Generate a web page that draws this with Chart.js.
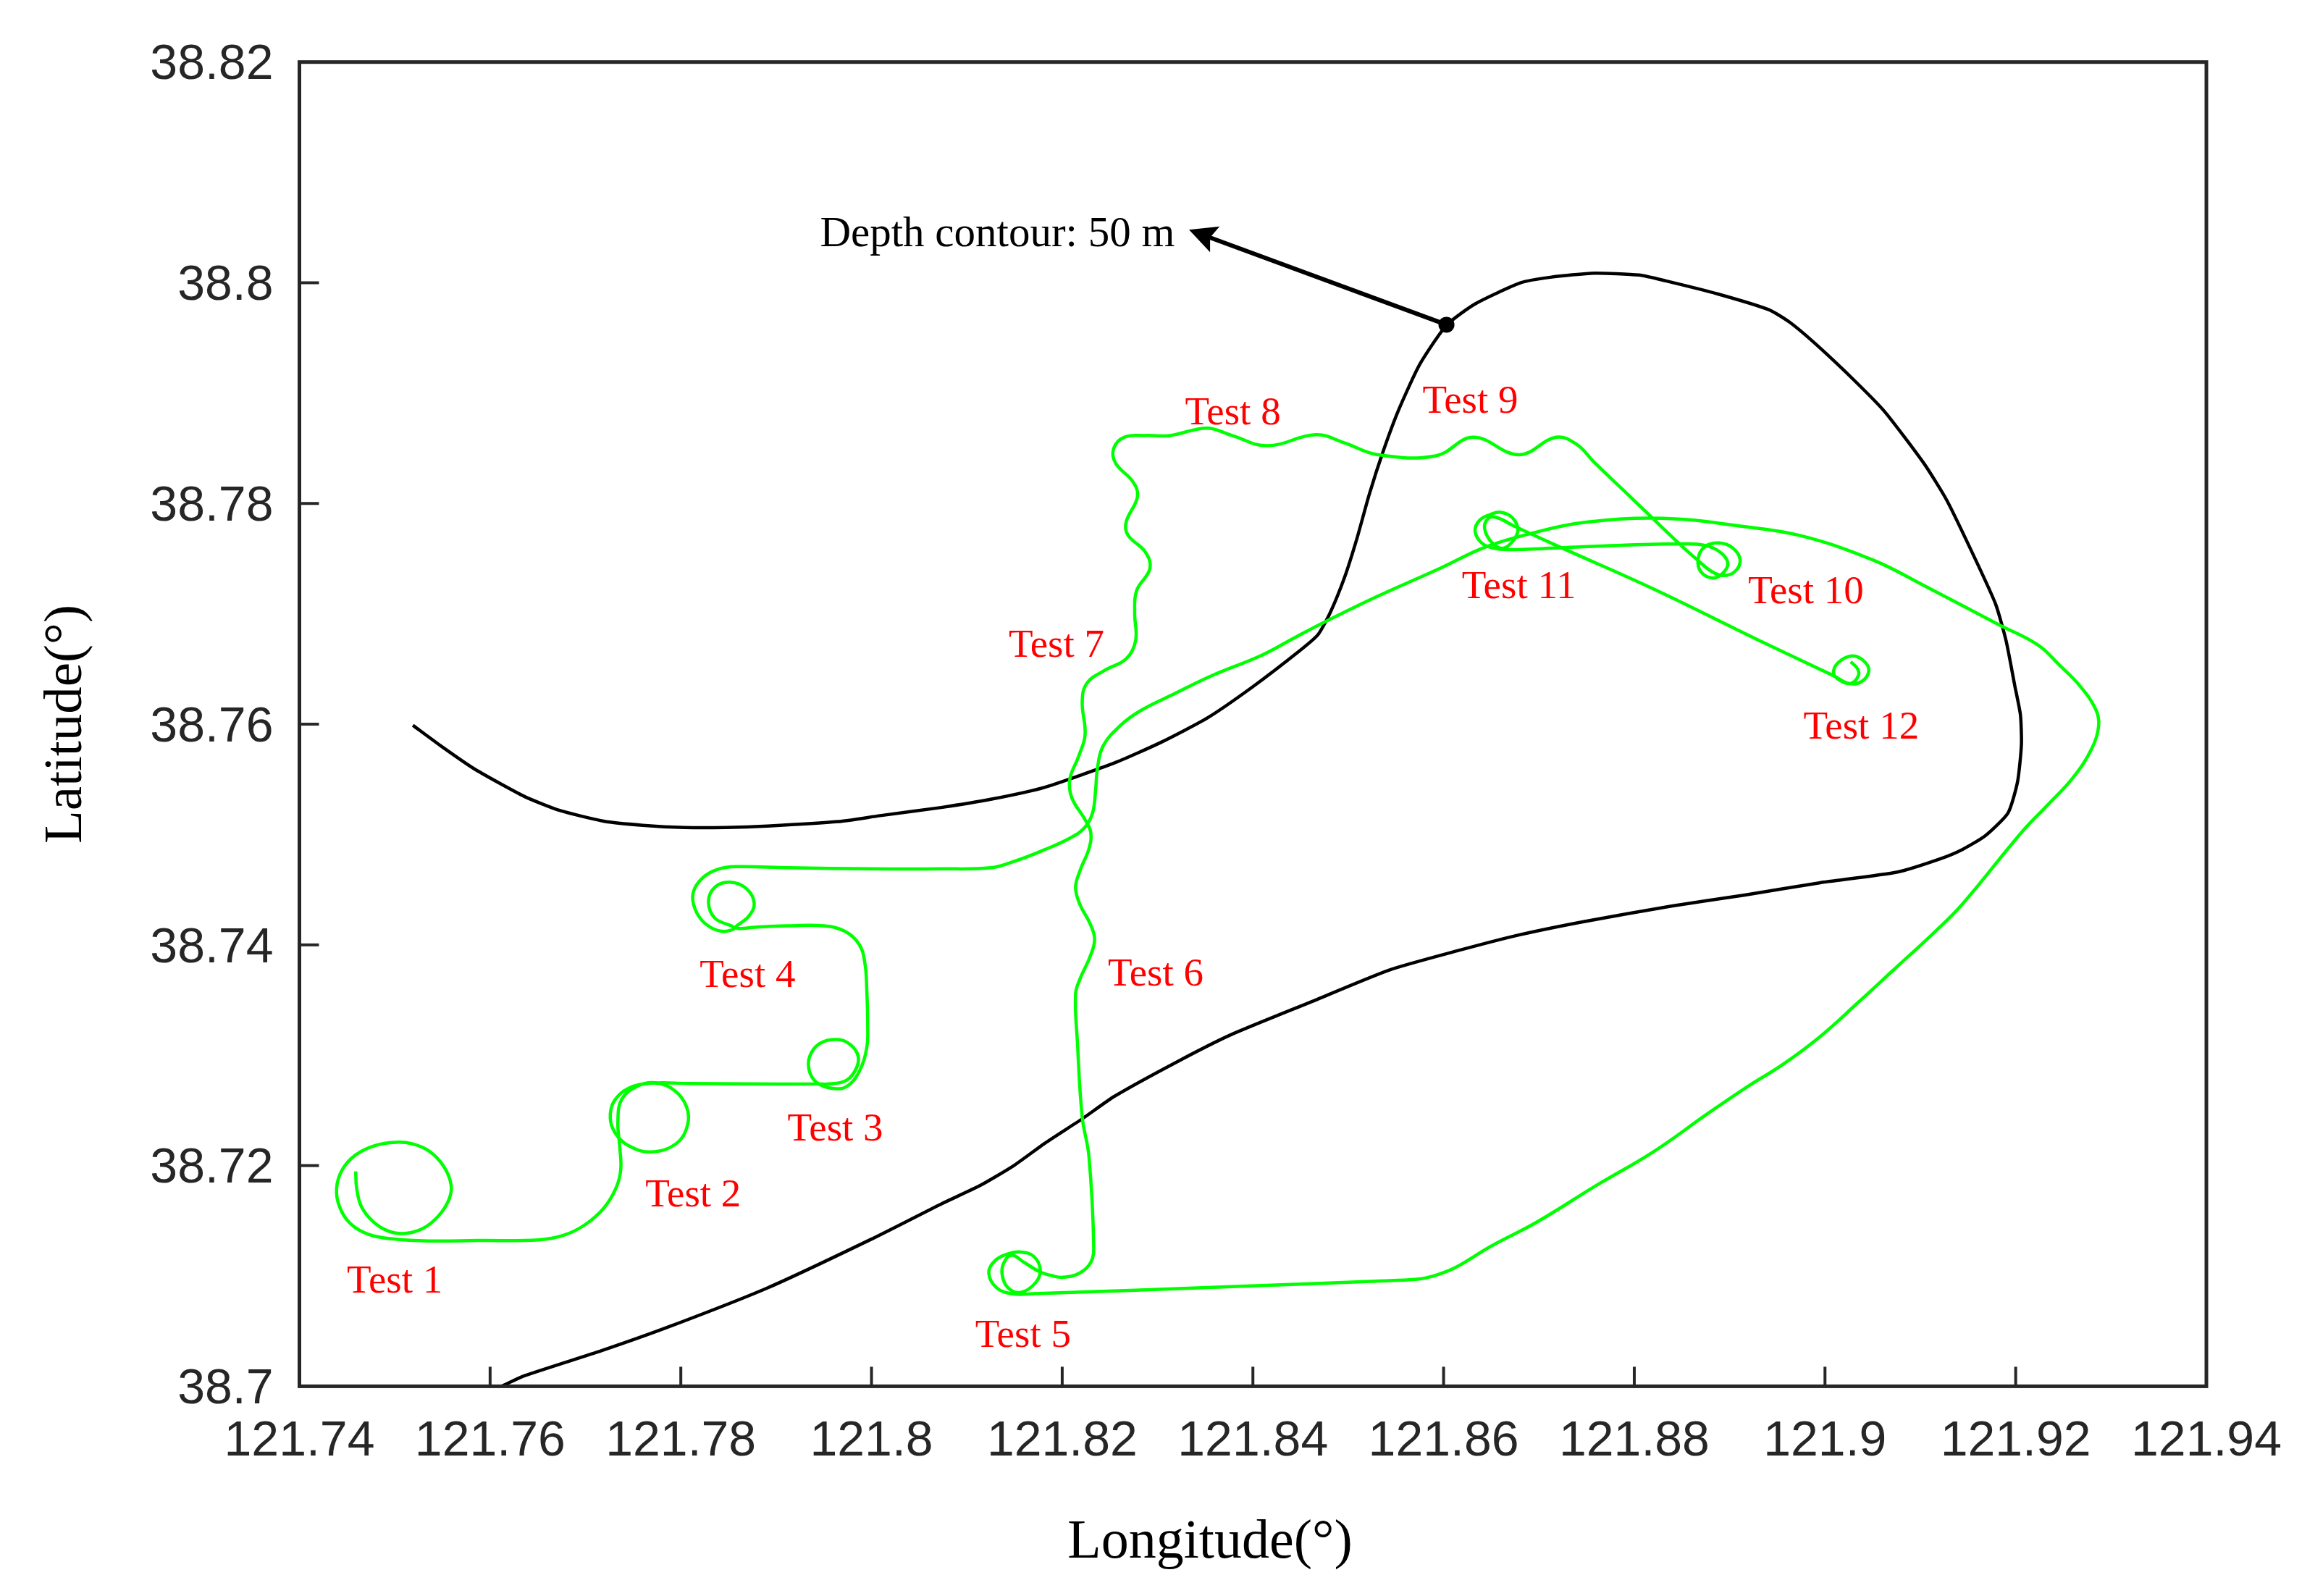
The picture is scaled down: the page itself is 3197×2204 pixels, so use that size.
<!DOCTYPE html>
<html>
<head>
<meta charset="utf-8">
<title>Test track</title>
<script src="https://cdn.jsdelivr.net/npm/chart.js@4/dist/chart.umd.min.js"></script>
<style>
  html, body { margin: 0; padding: 0; background: #fff; }
  canvas { display: block; }
</style>
</head>
<body>
<canvas id="track" width="3197" height="2204"></canvas>
<script>
// Ticks
const lonTicks = [121.74, 121.76, 121.78, 121.8, 121.82, 121.84, 121.86, 121.88, 121.9, 121.92, 121.94];
const latTicks = [38.7, 38.72, 38.74, 38.76, 38.78, 38.8, 38.82];

// Green track, [lon, lat]
const legTest1 = [[121.7459,38.71947],[121.7460,38.71796],[121.7465,38.71629],[121.7477,38.71495],[121.7492,38.71411],[121.7509,38.71384],[121.7529,38.71428],[121.7546,38.71545],[121.7557,38.71696],[121.7559,38.7183],[121.7551,38.71997],[121.7536,38.72131],[121.7518,38.72198],[121.7501,38.72211],[121.7479,38.72181],[121.7459,38.72097],[121.7445,38.71964],[121.7439,38.71796],[121.7442,38.71629],[121.7453,38.71478],[121.7472,38.71378],[121.7499,38.71334],[121.7538,38.71317],[121.7586,38.71321],[121.7651,38.71327],[121.7677,38.71368],[121.7699,38.71461],[121.7719,38.71612],[121.7732,38.71796],[121.7737,38.71964],[121.7736,38.72164]];
const legTest2 = [[121.7734,38.72399],[121.7738,38.726],[121.7754,38.72717],[121.7773,38.7275],[121.7793,38.72683],[121.7806,38.72533],[121.7807,38.72365],[121.7795,38.72198],[121.7769,38.72124],[121.7745,38.72181],[121.7731,38.72298],[121.7726,38.72432],[121.7730,38.72583],[121.7745,38.727],[121.7769,38.72747],[121.7808,38.72744],[121.7869,38.7274],[121.7943,38.7274]];
const legTest3 = [[121.7956,38.7274],[121.7974,38.72774],[121.7985,38.72901],[121.7985,38.73018],[121.7974,38.73119],[121.7961,38.73142],[121.7945,38.73102],[121.7935,38.72985],[121.7935,38.72851],[121.7943,38.7275],[121.7959,38.727],[121.7974,38.72717],[121.7987,38.72851],[121.7995,38.73068],[121.7996,38.73269],[121.7995,38.73604],[121.7993,38.73838],[121.7987,38.74006],[121.7972,38.74123],[121.7950,38.74173],[121.7913,38.74173],[121.7882,38.74163],[121.7858,38.74156]];
const legTest4 = [[121.7871,38.74257],[121.7877,38.74374],[121.7869,38.74508],[121.7852,38.74568],[121.7836,38.74525],[121.7829,38.74391],[121.7836,38.7424],[121.7856,38.74156],[121.7843,38.74123],[121.7826,38.7419],[121.7815,38.74324],[121.7813,38.74475],[121.7823,38.74608],[121.7839,38.74685],[121.7858,38.74709],[121.7913,38.74699],[121.8000,38.74689],[121.8073,38.74689]];
const legEast = [[121.8125,38.74699],[121.8147,38.74749],[121.8178,38.7485],[121.8208,38.74967],[121.8224,38.75067],[121.8232,38.75201],[121.8235,38.75402],[121.8237,38.75603],[121.8243,38.75804],[121.8261,38.75988],[121.8282,38.76122],[121.8317,38.76273],[121.8357,38.7644],[121.8409,38.76624],[121.8444,38.76785],[121.8479,38.76942],[121.8531,38.7716],[121.8596,38.77411],[121.8644,38.77605],[121.8692,38.77729],[121.8747,38.77828],[121.8830,38.77865],[121.8911,38.77795],[121.8975,38.77707],[121.9050,38.77489],[121.9104,38.77255],[121.9182,38.76903],[121.9223,38.76719],[121.9246,38.76535],[121.9267,38.76351],[121.9284,38.76133],[121.9287,38.75983],[121.9280,38.75782],[121.9260,38.75514],[121.9233,38.75263],[121.9206,38.75018],[121.9144,38.74368],[121.9115,38.74117],[121.9071,38.73766],[121.9033,38.73464],[121.8994,38.73163],[121.8955,38.72912],[121.8921,38.72728],[121.8878,38.72477],[121.8820,38.72125],[121.8761,38.71824],[121.8698,38.71489],[121.8650,38.71271],[121.8611,38.7107],[121.8587,38.70994],[121.8573,38.7097],[121.8529,38.70953],[121.8383,38.70905]];
const legTest5 = [[121.8170,38.70839],[121.8147,38.70839],[121.8131,38.70894],[121.8123,38.71025],[121.8129,38.71134],[121.8143,38.712],[121.8156,38.71217],[121.8170,38.71178],[121.8177,38.71058],[121.8172,38.70937],[121.8156,38.7085],[121.8143,38.70894],[121.8137,38.71014],[121.8139,38.71123],[121.8147,38.71189],[121.8160,38.71123],[121.8176,38.7104],[121.8189,38.71003],[121.8201,38.70988],[121.8218,38.71025],[121.8230,38.71123],[121.8233,38.71277]];
const legTest6 = [[121.8228,38.72087],[121.8221,38.72439],[121.8216,38.73112],[121.8214,38.73552],[121.8219,38.73698],[121.8229,38.73889],[121.8234,38.7405],[121.8229,38.74197],[121.8219,38.74358],[121.8214,38.74519],[121.8219,38.7468],[121.8228,38.7487],[121.8230,38.75017]];
const legTest7 = [[121.8224,38.75134],[121.8210,38.75335],[121.8208,38.75503],[121.8217,38.75704],[121.8224,38.75904],[121.8221,38.76206],[121.8226,38.76373],[121.8245,38.7649],[121.8267,38.76591],[121.8277,38.76758],[121.8276,38.77009],[121.8278,38.7721],[121.8292,38.77411],[121.8287,38.77562],[121.8269,38.77712],[121.8267,38.7783],[121.8279,38.78064],[121.8274,38.78198],[121.8256,38.78365],[121.8254,38.78499],[121.8265,38.786]];
const legTest8 = [[121.8287,38.78616],[121.8313,38.78616],[121.8352,38.78683],[121.8378,38.78616],[121.8415,38.78523],[121.8466,38.78623],[121.8496,38.78549],[121.8531,38.78442]];
const legTest9 = [[121.8592,38.78432],[121.8631,38.786],[121.8679,38.78442],[121.8718,38.786],[121.8740,38.78533],[121.8757,38.78382],[121.8800,38.78026],[121.8849,38.7762],[121.8869,38.77467]];
const legTest10 = [[121.8880,38.7739],[121.8892,38.77347],[121.8905,38.77379],[121.8911,38.77489],[121.8903,38.77598],[121.8889,38.77642],[121.8874,38.77609],[121.8867,38.775],[121.8870,38.77379],[121.8883,38.77325],[121.8894,38.77379],[121.8898,38.77467],[121.8889,38.77565],[121.8874,38.7762],[121.8856,38.77635],[121.8783,38.7762],[121.8721,38.77598],[121.8667,38.77581]];
const legTest11 = [[121.8653,38.77594],[121.8640,38.77642],[121.8633,38.77751],[121.8638,38.7785],[121.8649,38.779],[121.8660,38.7792],[121.8672,38.77872],[121.8678,38.77762],[121.8672,38.77653],[121.8662,38.77594],[121.8651,38.77642],[121.8643,38.77773],[121.8647,38.77865],[121.8656,38.77872],[121.8674,38.77795],[121.8721,38.77609],[121.8820,38.77226],[121.8929,38.76767],[121.9009,38.76439]];
const legTest12 = [[121.9025,38.76369],[121.9038,38.76384],[121.9046,38.76482],[121.9041,38.7657],[121.9029,38.76618],[121.9014,38.76559],[121.9009,38.7646],[121.9016,38.76395],[121.9027,38.76369],[121.9035,38.76439],[121.9034,38.76504],[121.9027,38.76565]];

// Black 50 m depth contour, [lon, lat]
const contourNorth = [[121.7519,38.7599],[121.7550,38.75793],[121.7584,38.75592],[121.7636,38.75345],[121.7673,38.75218],[121.7719,38.75121],[121.7760,38.75084],[121.7804,38.75064],[121.7847,38.75064],[121.7891,38.75077],[121.7965,38.75117],[121.8009,38.75171],[121.8073,38.75245],[121.8125,38.75319],[121.8182,38.75429],[121.8256,38.75653],[121.8304,38.75837],[121.8352,38.76055],[121.8400,38.7634],[121.8448,38.76658],[121.8468,38.76808],[121.8481,38.77009],[121.8496,38.77327],[121.8509,38.77679],[121.8522,38.78081],[121.8537,38.78482],[121.8553,38.78851],[121.8575,38.79261],[121.8603,38.79615],[121.8633,38.79808],[121.8681,38.8]];
const contourBay = [[121.8712,38.8005],[121.8758,38.80087],[121.8805,38.8007],[121.8833,38.80017],[121.8887,38.799],[121.8941,38.79756],[121.8963,38.79642],[121.8992,38.79431],[121.9033,38.79096],[121.9063,38.78828],[121.9104,38.7836],[121.9128,38.78025],[121.9158,38.77489],[121.9179,38.77087],[121.9190,38.76753],[121.9199,38.76351],[121.9205,38.76083],[121.9206,38.75815],[121.9202,38.7548],[121.9192,38.75196]];
const contourSouth = [[121.9168,38.74988],[121.9144,38.74864],[121.9120,38.74777],[121.9076,38.7466],[121.8994,38.74562],[121.8916,38.74452],[121.8839,38.74352],[121.8747,38.74211],[121.8679,38.7409],[121.8616,38.7395],[121.8543,38.73772],[121.8460,38.7348],[121.8377,38.73186],[121.8321,38.72943],[121.8255,38.72629],[121.8221,38.72424],[121.8182,38.72204],[121.8149,38.71999],[121.8114,38.7182],[121.8073,38.71652],[121.8000,38.71334],[121.7891,38.70892],[121.7788,38.70541],[121.7717,38.70323],[121.7636,38.70095],[121.7612,38.7]];

// Labels
const testNames = ['Test 1','Test 2','Test 3','Test 4','Test 5','Test 6','Test 7','Test 8','Test 9','Test 10','Test 11','Test 12'];
const testLon = [121.7500,121.7813,121.7962,121.7870,121.8159,121.8298,121.8194,121.8379,121.8628,121.8980,121.8679,121.9038];
const testLat = [38.70944,38.71724,38.72324,38.73714,38.70454,38.73724,38.76704,38.78814,38.78914,38.77194,38.77234,38.75964];
const depthText = 'Depth contour: 50 m';
const depthTextAt = [121.8132, 38.8043];
const lonTitle = 'Longitude(°)';
const lonTitleAt = [121.8355, 38.6858];
const arrowFrom = [121.8603, 38.7962];
const arrowTip = [121.8333, 38.8048];

const toXY = p => ({x: p[0], y: p[1]});
const trackData = [].concat(legTest1, legTest2, legTest3, legTest4, legEast, legTest5, legTest6, legTest7, legTest8, legTest9, legTest10, legTest11, legTest12).map(toXY);
const contourData = [].concat(contourNorth, contourBay, contourSouth).map(toXY);

const axisColor = '#262626';
const tickLen = 27;

// Frame, inward ticks and the texts on the plot
const overlay = {
  id: 'overlay',
  afterLayout(chart) {
    // y labels sit a little below their ticks in the picture
    chart.scales.y.getLabelItems().forEach(item => { item.textOffset += 5; });
  },
  afterDatasetsDraw(chart) {
    const {ctx, chartArea: a, scales: {x, y}} = chart;
    ctx.save();
    ctx.strokeStyle = axisColor;
    ctx.lineWidth = 4;
    lonTicks.slice(1, -1).forEach(v => {
      const px = x.getPixelForValue(v);
      ctx.beginPath(); ctx.moveTo(px, a.bottom); ctx.lineTo(px, a.bottom - tickLen); ctx.stroke();
    });
    latTicks.slice(1, -1).forEach(v => {
      const py = y.getPixelForValue(v);
      ctx.beginPath(); ctx.moveTo(a.left, py); ctx.lineTo(a.left + tickLen, py); ctx.stroke();
    });
    ctx.lineWidth = 5;
    ctx.strokeRect(a.left, a.top, a.right - a.left, a.bottom - a.top);

    ctx.fillStyle = '#ff0000';
    ctx.font = '55px "Liberation Serif"';
    ctx.textAlign = 'center';
    ctx.textBaseline = 'middle';
    testNames.forEach((t, i) => ctx.fillText(t, x.getPixelForValue(testLon[i]), y.getPixelForValue(testLat[i])));

    ctx.fillStyle = '#000';
    ctx.font = '59px "Liberation Serif"';
    ctx.fillText(depthText, x.getPixelForValue(depthTextAt[0]), y.getPixelForValue(depthTextAt[1]));

    // x axis title is off centre in the picture, so it cannot be the scale's own title
    ctx.font = '76px "Liberation Serif"';
    ctx.fillText(lonTitle, x.getPixelForValue(lonTitleAt[0]), y.getPixelForValue(lonTitleAt[1]));

    // arrow from the contour point to the text
    const fx = x.getPixelForValue(arrowFrom[0]), fy = y.getPixelForValue(arrowFrom[1]);
    const tx = x.getPixelForValue(arrowTip[0]), ty = y.getPixelForValue(arrowTip[1]);
    const ang = Math.atan2(fy - ty, fx - tx);
    const along = (d, side) => [tx + Math.cos(ang) * d - Math.sin(ang) * side, ty + Math.sin(ang) * d + Math.cos(ang) * side];
    ctx.strokeStyle = '#000';
    ctx.lineWidth = 6;
    ctx.beginPath(); ctx.moveTo(fx, fy); ctx.lineTo(...along(30, 0)); ctx.stroke();
    ctx.beginPath();
    ctx.moveTo(tx, ty);
    ctx.lineTo(...along(38, 19));
    ctx.lineTo(...along(31, 0));
    ctx.lineTo(...along(38, -19));
    ctx.closePath();
    ctx.fill();
    ctx.restore();
  }
};

new Chart(document.getElementById('track'), {
  type: 'scatter',
  data: {
    datasets: [
      {label: 'Track', data: trackData, showLine: true, borderColor: '#00ff00', borderWidth: 4.5, tension: 0.4, pointRadius: 0},
      {label: 'Contour point', data: [toXY(arrowFrom)], backgroundColor: '#000', pointRadius: 11, pointBorderWidth: 0},
      {label: 'Depth contour', data: contourData, showLine: true, borderColor: '#000', borderWidth: 4.5, tension: 0.2, pointRadius: 0}
    ]
  },
  plugins: [overlay],
  options: {
    responsive: false,
    devicePixelRatio: 1,
    animation: false,
    layout: {padding: {top: 85.7, right: 150, bottom: 0, left: 0}},
    plugins: {legend: {display: false}, tooltip: {enabled: false}},
    scales: {
      x: {
        type: 'linear', min: 121.74, max: 121.94,
        grid: {display: false}, border: {display: false},
        afterBuildTicks: s => { s.ticks = lonTicks.map(v => ({value: v})); },
        afterFit: s => { s.height = 289.6; },
        ticks: {color: axisColor, padding: 28, maxRotation: 0, autoSkip: false, font: {family: '"Liberation Sans"', size: 68}, callback: v => String(+v.toFixed(2))},
        title: {display: false}
      },
      y: {
        type: 'linear', min: 38.7, max: 38.82,
        grid: {display: false}, border: {display: false},
        afterBuildTicks: s => { s.ticks = latTicks.map(v => ({value: v})); },
        afterFit: s => { s.width = 413.5; },
        ticks: {color: axisColor, padding: 28, autoSkip: false, font: {family: '"Liberation Sans"', size: 68}, callback: v => String(+v.toFixed(2))},
        title: {display: true, text: 'Latitude(°)', color: '#000', padding: {top: 47, bottom: 0}, font: {family: '"Liberation Serif"', size: 75}}
      }
    }
  }
});
</script>
</body>
</html>
